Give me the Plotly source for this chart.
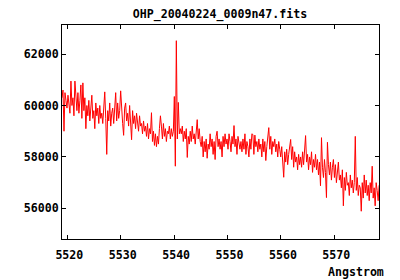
import numpy as np
import plotly.graph_objects as go

TITLE = "OHP_20040224_0009n47.fits"
X_LABEL = "Angstrom"
X_TICKS = [5520, 5530, 5540, 5550, 5560, 5570]
Y_TICKS = [56000, 58000, 60000, 62000]

WAVE_START = 5519.0
WAVE_STEP = 0.1862

FLUX = [
    60300, 60600, 59000, 60500, 60200, 59900, 60400, 60100, 59700, 60950, 60000, 60300, 59600, 60950, 60100, 59800, 60500, 59700, 60200, 60800,
    59500, 60880, 59800, 60300, 59100, 60000, 59600, 60200, 59400, 59900, 60400, 59500, 59800, 59100, 60100, 59600, 59900, 59300, 60000, 59500,
    59700, 59300, 60000, 60530, 59500, 58100, 59800, 59400, 60100, 59200, 59700, 59900, 59300, 60000, 60500, 59400, 60100, 59500, 59800, 60570,
    59800, 59300, 58840, 59900, 60100, 59400, 59700, 59200, 60000, 59500, 58670, 59800, 59300, 59600, 59100, 59700, 59400, 59000, 59600, 59200,
    59300, 58900, 59400, 59000, 59200, 58800, 59300, 58700, 59100, 58900, 59720, 58600, 59000, 58450, 58900, 58400, 58800, 58500, 59100, 59600,
    59200, 58700, 59300, 58800, 59100, 58600, 59000, 58900, 59200, 58700, 59100, 58800, 59000, 60350, 57640, 62520, 58700, 60120, 58900, 59100,
    58900, 59200, 58600, 59000, 58700, 59100, 57980, 58800, 58500, 59000, 58600, 59200, 58700, 58900, 58500, 59000, 59450, 58700, 59100, 58600,
    58400, 58800, 58000, 58600, 58200, 58700, 57950, 58500, 58300, 58900, 58400, 58700, 58100, 58600, 57900, 58800, 59000, 58400, 58700, 58300,
    58600, 58000, 58800, 58400, 58900, 58500, 58700, 58300, 58900, 58600, 58200, 58800, 58500, 59220, 58400, 58700, 58100, 58800, 58500, 58300,
    58600, 58200, 58700, 58300, 58900, 58100, 58600, 58400, 58000, 58700, 58300, 58900, 58870, 58100, 58850, 58400, 58600, 58200, 58700, 58300,
    58500, 58000, 58700, 58200, 58600, 57860, 58400, 58900, 59140, 58300, 58800, 58100, 58600, 58400, 58700, 58200, 58500, 58000, 58600, 58300,
    58000, 58400, 57900, 57210, 58200, 57800, 58300, 57700, 58100, 58500, 58680, 57900, 58400, 57600, 58200, 57800, 58000, 57500, 58100, 57700,
    58000, 57600, 58200, 57700, 58300, 58830, 57800, 58100, 57500, 58000, 57700, 58200, 57400, 57900, 57600, 58100, 57500, 57900, 57300, 57800,
    56880, 58750, 57600, 57200, 57900, 57400, 56420, 58570, 57700, 57300, 57800, 57100, 57600, 57900, 57200, 57700, 57000, 57500, 57800, 57100,
    57300, 56800, 57500, 56100, 57200, 56700, 57400, 56900, 57000, 56500, 57300, 56800, 57100, 56600, 57000, 58800, 56700, 57200, 56500, 56900,
    56800, 55890, 57000, 56400, 57300, 56600, 57100, 56500, 56900, 56300, 57000, 56600, 57640, 56400, 56800, 56100, 57000, 56700, 56300, 56900,
]

wave = WAVE_START + WAVE_STEP * np.arange(len(FLUX))

FONT = dict(family="DejaVu Sans Mono", size=11.6, color="black", weight="bold")

fig = go.Figure()
fig.add_trace(go.Scatter(x=wave, y=FLUX, mode="lines",
                         line=dict(color="#ff0000", width=1),
                         showlegend=False, hoverinfo="skip"))

axis_common = dict(showline=True, linecolor="black", linewidth=1, mirror="ticks",
                   ticks="inside", ticklen=4, tickcolor="black", tickwidth=1,
                   showgrid=False, zeroline=False, tickfont=FONT)

fig.update_layout(
    width=400, height=280,
    margin=dict(l=62, r=21, t=25, b=41),
    paper_bgcolor="white", plot_bgcolor="white",
    title=dict(text=TITLE, x=0.55, xref="container", xanchor="center",
               y=1 - 14 / 280, yref="container", yanchor="middle", font=FONT),
    xaxis=dict(range=[5519.0, 5578.37], tickvals=X_TICKS,
               ticktext=[str(v) for v in X_TICKS], ticklabelstandoff=5,
               ticklabelshift=2, **axis_common),
    yaxis=dict(range=[54810, 63130], tickvals=Y_TICKS,
               ticktext=[str(v) for v in Y_TICKS], **axis_common),
    annotations=[dict(text=X_LABEL, xref="paper", yref="paper",
                      x=1.022, y=-0.152, xanchor="right", yanchor="middle",
                      showarrow=False, font=FONT)],
)

fig.write_html("out.html")
